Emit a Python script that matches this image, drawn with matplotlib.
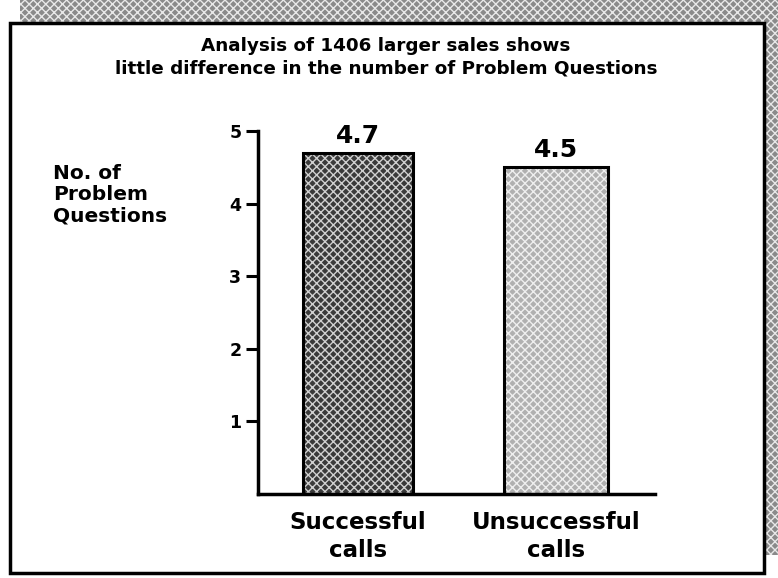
import matplotlib.pyplot as plt
from matplotlib.patches import Rectangle

# chart data
categories = ['Successful\ncalls', 'Unsuccessful\ncalls']
values = [4.7, 4.5]
value_labels = ['4.7', '4.5']
yticks = [1, 2, 3, 4, 5]

W, H = 778, 578
plt.rcParams['font.family'] = ['DejaVu Sans']
plt.rcParams['font.weight'] = 'bold'
plt.rcParams['hatch.linewidth'] = 1.0

fig = plt.figure(figsize=(W / 100, H / 100), dpi=100)
fig.patch.set_facecolor('white')


def px(x, y):
    # pixel from top-left -> figure fraction
    return x / W, 1 - y / H


# grey drop shadow (top and right)
for x0, y0, x1, y1 in [(20, 0, 778, 23), (764, 0, 778, 555)]:
    fx, fy = px(x0, y1)
    fig.patches.append(Rectangle((fx, fy), (x1 - x0) / W, (y1 - y0) / H,
                                 transform=fig.transFigure, facecolor='#8a8a8a',
                                 edgecolor='#e8e8e8', hatch='xxxx', lw=0, zorder=0))

# white panel with black border
fx, fy = px(10, 573)
fig.patches.append(Rectangle((fx, fy), 754 / W, 550 / H, transform=fig.transFigure,
                             facecolor='white', edgecolor='black', lw=2.5, zorder=1))

# title
fig.text(386 / W, 1 - 46 / H, 'Analysis of 1406 larger sales shows',
         ha='center', va='center', fontsize=13.2, fontweight='bold', zorder=3)
fig.text(386 / W, 1 - 69 / H, 'little difference in the number of Problem Questions',
         ha='center', va='center', fontsize=13.2, fontweight='bold', zorder=3)

# y label
fig.text(53 / W, 1 - 195 / H, 'No. of\nProblem\nQuestions', ha='left', va='center',
         fontsize=14.5, fontweight='bold', linespacing=1.15, zorder=3)

ax = fig.add_axes([258 / W, 1 - 494 / H, (655 - 258) / W, (494 - 131) / H])
ax.set_zorder(2)
ax.set_facecolor('none')
x = [0, 1]

# textured fills
ax.bar(x[0], values[0], width=0.56, color='#3a3a3a', hatch='xxxx',
       edgecolor='#d0d0d0', lw=0, zorder=2)
ax.bar(x[1], values[1], width=0.53, color='#b0b0b0', hatch='xxxx',
       edgecolor='#eeeeee', lw=0, zorder=2)
# outlines
ax.bar(x, values, width=[0.56, 0.53], color='none', edgecolor='black', lw=2.2, zorder=3)

for xi, v, lab in zip(x, values, value_labels):
    ax.text(xi, v + 0.07, lab, ha='center', va='bottom', fontsize=18, fontweight='bold')

ax.set_xlim(-0.505, 1.5)
ax.set_ylim(0, 5)
ax.set_yticks(yticks)
ax.set_yticklabels([str(t) for t in yticks], fontsize=12.5, fontweight='bold')
ax.set_xticks(x)
ax.set_xticklabels(categories, fontsize=16.5, fontweight='bold', linespacing=1.3)
ax.tick_params(axis='x', length=0, pad=12)
ax.tick_params(axis='y', length=9, width=2.2, pad=3, direction='out')
for s in ['top', 'right']:
    ax.spines[s].set_visible(False)
for s in ['left', 'bottom']:
    ax.spines[s].set_linewidth(2.5)

fig.savefig('out.png', dpi=100)
